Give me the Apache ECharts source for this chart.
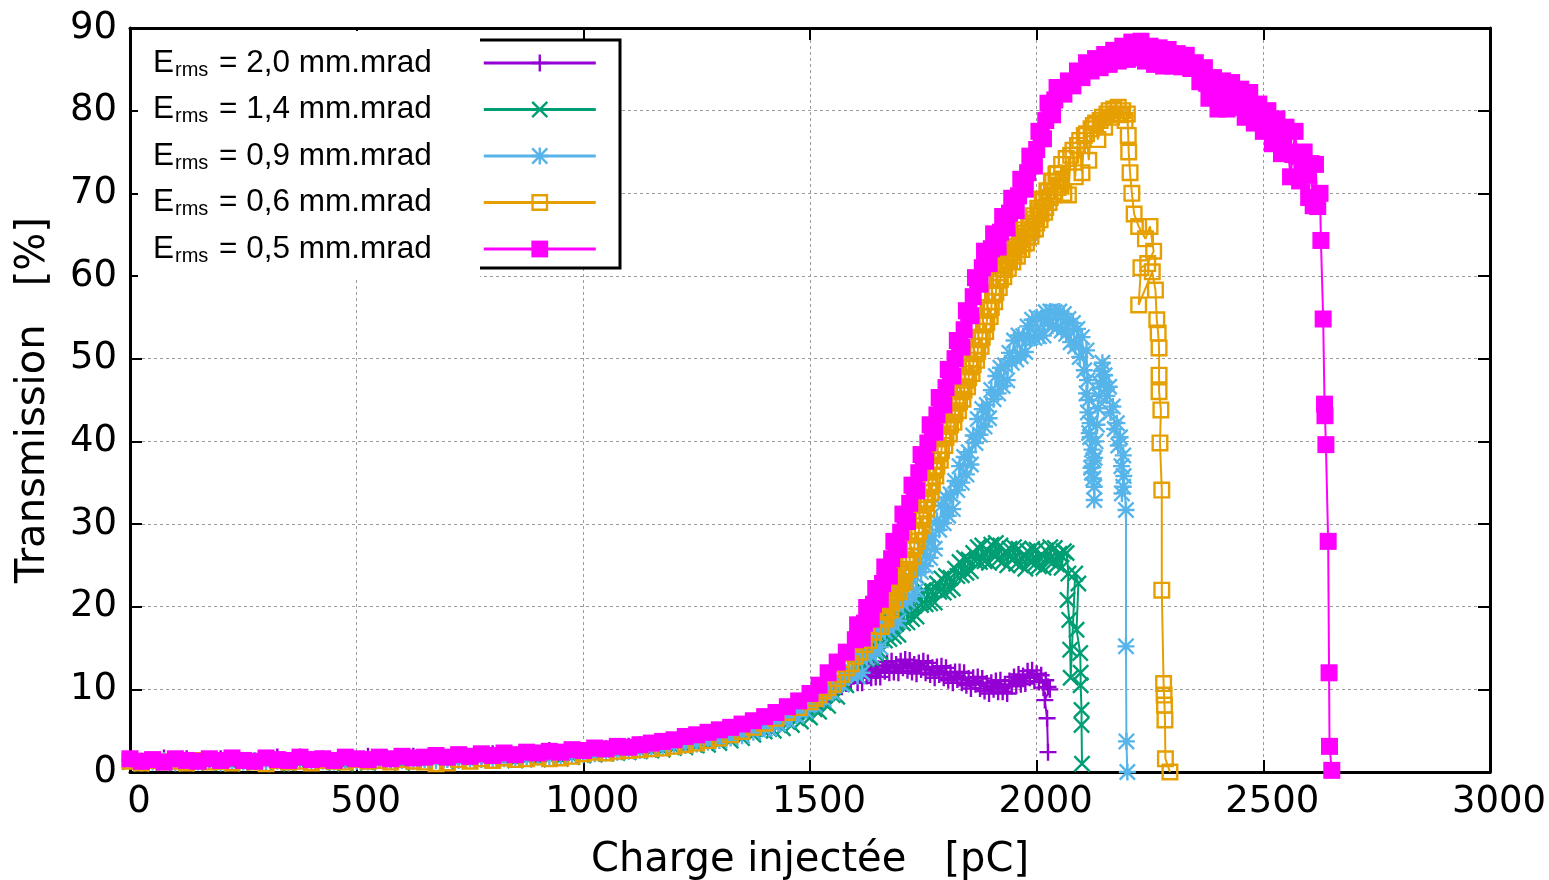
<!DOCTYPE html>
<html><head><meta charset="utf-8">
<script src="https://cdn.jsdelivr.net/npm/echarts@6.0.0/dist/echarts.min.js"></script>
<style>html,body{margin:0;padding:0;background:#fff}#c{width:1549px;height:880px}</style>
</head><body><div id="c"></div>
<script>
// ---- data ----
const emittances = ['2,0', '1,4', '0,9', '0,6', '0,5'];
const seriesNames = emittances.map(e => 'Erms = ' + e + ' mm.mrad');
const seriesColors = ['#9400d3', '#009e73', '#56b4e9', '#e69f00', '#ff00ff'];
const xTickStep = 500, xMax = 3000, yTickStep = 10, yMax = 90;

// Erms = 2,0 mm.mrad  [charge pC, transmission %]
const trans20 = [[0,1.5],[25,1.3],[50,1.4],[75,1.7],[100,1.5],[125,1.6],[150,1.3],[175,1.4],[200,1.6],[225,1.3],[250,1.4],[275,1.3],[300,1.5],[325,1.8],[350,1.4],[375,1.8],[400,1.5],[425,1.6],[450,1.4],[475,1.5],[500,1.5],[525,1.9],[550,1.6],[575,1.5],[600,1.7],[625,1.9],[650,1.7],[675,1.8],[700,1.7],[725,1.8],[750,1.8],[775,1.9],[800,2.2],[825,2.0],[850,2.0],[875,2.2],[900,2.2],[925,2.6],[950,2.3],[975,2.6],[1000,2.5],[1025,2.8],[1050,2.8],[1075,2.9],[1100,3.1],[1125,3.3],[1150,3.4],[1175,3.6],[1200,3.8],[1225,4.0],[1250,4.2],[1275,4.5],[1300,4.7],[1325,5.0],[1350,5.2],[1375,5.4],[1400,5.6],
[1410,5.8],[1420,6.0],[1430,6.2],[1440,6.4],[1450,6.6],[1460,6.9],[1470,7.1],[1480,7.3],[1490,7.6],[1500,7.9],[1510,8.2],[1520,8.5],[1530,8.9],[1540,9.2],[1550,9.6],[1560,10.0],[1570,10.3],[1580,10.7],[1590,11.0],
[1600,12.1],[1605,10.8],[1610,11.8],[1615,10.8],[1620,12.3],[1625,11.6],[1630,12.6],[1635,11.4],[1640,12.8],[1645,11.5],[1650,12.5],[1655,11.5],[1660,12.9],[1665,12.2],[1670,13.3],[1675,12.0],[1680,13.4],[1685,12.1],[1690,13.0],[1695,12.0],[1700,13.4],[1705,12.6],[1710,13.6],[1715,12.3],[1720,13.5],[1725,12.1],[1730,13.0],[1735,11.9],[1740,13.2],[1745,12.4],[1750,13.4],[1755,12.0],[1760,13.2],[1765,11.8],[1770,12.6],[1775,11.4],[1780,12.7],[1785,11.8],[1790,12.8],[1795,11.4],[1800,12.6],[1805,11.1],[1810,12.0],[1815,10.8],[1820,12.1],[1825,11.2],[1830,12.1],[1835,10.8],[1840,12.0],[1845,10.5],[1850,11.3],[1855,10.1],[1860,11.4],[1865,10.6],[1870,11.5],[1875,10.1],[1880,11.3],[1885,9.8],[1890,10.7],[1895,9.5],[1900,10.8],[1905,10.0],[1910,11.0],[1915,9.7],[1920,11.1],[1925,9.7],[1930,10.6],[1935,9.5],[1940,11.0],[1945,10.4],[1950,11.5],[1955,10.4],[1960,11.8],[1965,10.6],[1970,11.6],[1975,10.7],[1980,12.2],[1985,11.4],[1990,12.3],[1995,11.0],[2000,11.9],[2005,10.9],[2010,11.7],[2015,10.2],[2020,11.1],
[2025,10.3],[2029,10.0],[2018,8.7],[2023,6.5],[2025,2.4]];

// Erms = 1,4 mm.mrad
const trans14 = [[0,1.2],[25,1.0],[50,1.3],[75,1.1],[100,1.2],[125,1.0],[150,1.3],[175,1.1],[200,1.2],[225,1.0],[250,1.2],[275,1.1],[300,1.3],[325,1.0],[350,1.2],[375,1.1],[400,1.3],[425,1.1],[450,1.2],[475,1.0],[500,1.3],[525,1.1],[550,1.2],[575,1.3],[600,1.1],[625,1.3],[650,1.2],[675,1.4],[700,1.2],[725,1.4],[750,1.3],[775,1.5],[800,1.4],[825,1.5],[850,1.4],[875,1.6],[900,1.5],[925,1.7],[950,1.6],[975,1.8],[1000,2.0],[1025,2.1],[1050,2.2],[1075,2.3],[1100,2.4],[1125,2.5],[1150,2.6],[1175,2.7],[1200,2.9],[1225,3.0],[1250,3.2],[1275,3.3],[1300,3.5],[1325,3.8],[1350,4.1],[1375,4.5],[1400,4.9],
[1410,5.2],[1420,5.0],[1430,5.7],[1440,5.3],[1450,6.1],[1460,5.7],[1470,6.5],[1480,6.1],[1490,7.0],[1500,6.6],[1510,7.6],[1520,7.3],[1530,8.4],[1540,8.0],[1550,9.3],[1560,9.1],[1570,10.6],[1580,10.5],[1590,12.0],
[1600,13.2],[1605,11.6],[1610,13.2],[1615,12.0],[1620,14.4],[1625,13.6],[1630,15.4],[1635,13.8],[1640,15.9],[1645,14.3],[1650,15.9],[1655,14.5],[1660,16.9],[1665,15.9],[1670,17.7],[1675,16.1],[1680,18.1],[1685,16.4],[1690,17.9],[1695,16.6],[1700,18.9],[1705,18.0],[1710,19.8],[1715,18.1],[1720,20.2],[1725,18.5],[1730,20.1],[1735,18.8],[1740,21.1],[1745,20.2],[1750,22.0],[1755,20.3],[1760,22.3],[1765,20.4],[1770,21.9],[1775,20.5],[1780,22.8],[1785,21.8],[1790,23.4],[1795,21.7],[1800,23.7],[1805,22.0],[1810,23.5],[1815,22.2],[1820,24.6],[1825,23.7],[1830,25.4],[1835,23.8],[1840,25.9],[1845,24.1],[1850,25.7],[1855,24.3],[1860,26.5],[1865,25.5],[1870,27.2],[1875,25.4],[1880,27.4],[1885,25.5],[1890,26.9],[1895,25.3],[1900,27.5],[1905,26.2],[1910,27.7],[1915,25.7],[1920,27.4],[1925,25.4],[1930,26.6],[1935,25.0],[1940,27.0],[1945,25.7],[1950,27.2],[1955,25.2],[1960,27.0],[1965,25.0],[1970,26.2],[1975,24.6],[1980,26.7],[1985,25.5],[1990,27.0],[1995,25.1],[2000,26.9],[2005,24.9],[2010,26.3],[2015,24.7],[2020,26.8],[2025,25.6],[2030,27.2],[2035,25.3],[2040,27.1],[2045,25.1],[2050,26.4],[2055,24.7],[2060,26.7],
[2066,26.5],[2070,24.0],[2068,20.8],[2072,18.4],[2074,14.8],[2075,11.4],[2085,24.0],[2092,22.8],[2088,17.2],[2096,14.4],[2097,12.0],[2097,10.5],[2099,7.5],[2099,5.7],[2100,1.0]];

// Erms = 0,9 mm.mrad
const trans09 = [[0,1.3],[25,1.1],[50,1.2],[75,1.4],[100,1.1],[125,1.3],[150,1.2],[175,1.4],[200,1.1],[225,1.3],[250,1.2],[275,1.4],[300,1.2],[325,1.3],[350,1.1],[375,1.4],[400,1.2],[425,1.3],[450,1.2],[475,1.4],[500,1.3],[525,1.2],[550,1.4],[575,1.3],[600,1.4],[625,1.3],[650,1.5],[675,1.4],[700,1.5],[725,1.4],[750,1.6],[775,1.5],[800,1.6],[825,1.6],[850,1.7],[875,1.7],[900,1.8],[925,1.8],[950,1.9],[975,2.0],[1000,2.1],[1025,2.2],[1050,2.3],[1075,2.4],[1100,2.5],[1125,2.6],[1150,2.8],[1175,2.9],[1200,3.1],[1225,3.2],[1250,3.4],[1275,3.6],[1300,3.8],[1325,4.1],[1350,4.4],[1375,4.8],[1400,5.2],
[1410,5.3],[1420,5.8],[1430,5.8],[1440,6.4],[1450,6.3],[1460,7.0],[1470,6.8],[1480,7.6],[1490,7.4],[1500,8.2],[1510,8.1],[1520,9.0],[1530,8.8],[1540,9.8],[1550,9.6],[1560,10.8],[1570,10.6],[1580,12.0],[1590,11.8],
[1600,14.0],[1605,11.6],[1610,13.9],[1615,12.0],[1620,15.1],[1625,13.8],[1630,16.4],[1635,14.1],[1640,17.0],[1645,14.6],[1650,17.0],[1655,15.1],[1660,18.3],[1665,17.0],[1670,19.6],[1675,17.3],[1680,20.2],[1685,17.8],[1690,20.2],[1695,18.3],[1700,21.5],[1705,20.3],[1710,22.9],[1715,20.7],[1720,23.6],[1725,21.3],[1730,23.8],[1735,22.0],[1740,25.4],[1745,24.2],[1750,26.9],[1755,24.9],[1760,28.1],[1765,25.9],[1770,28.6],[1775,27.0],[1780,30.4],[1785,29.3],[1790,32.2],[1795,30.1],[1800,33.2],[1805,31.0],[1810,33.6],[1815,31.8],[1820,35.2],[1825,34.1],[1830,37.0],[1835,35.0],[1840,38.1],[1845,36.0],[1850,38.7],[1855,37.2],[1860,40.7],[1865,39.8],[1870,42.7],[1875,40.8],[1880,43.9],[1885,41.8],[1890,44.4],[1895,42.8],[1900,46.2],[1905,45.1],[1910,47.9],[1915,45.8],[1920,48.9],[1925,46.7],[1930,49.2],[1935,47.4],[1940,50.7],[1945,49.5],[1950,52.2],[1955,49.9],[1960,52.8],[1965,50.3],[1970,52.7],[1975,50.8],[1980,53.9],[1985,52.5],[1990,54.7],[1995,52.5],[2000,55.0],[2005,52.7],[2010,54.9],[2015,52.8],[2020,55.6],[2025,54.3],[2030,55.7],[2035,54.0],[2040,55.6],[2045,53.8],[2050,55.7],[2055,53.4],[2060,55.4],
[2065,53.0],[2070,54.8],[2075,52.0],[2080,54.3],[2085,51.5],[2090,53.6],[2095,50.2],[2100,52.6],[2105,48.6],[2110,51.0],[2112,47.4],[2110,45.8],[2115,45.0],[2113,43.5],[2118,42.2],[2116,41.0],[2118,40.5],[2122,39.0],[2125,37.7],[2120,36.8],[2122,36.2],[2127,34.5],[2127,32.9],[2125,35.5],[2128,38.0],[2130,40.0],[2133,42.0],[2135,44.0],[2138,45.5],[2140,47.0],[2143,48.5],[2145,49.5],[2148,47.2],[2150,48.0],[2155,45.5],[2160,46.6],[2163,43.5],[2168,44.2],[2172,41.5],[2177,42.2],[2180,39.5],[2184,40.5],[2187,37.0],[2191,38.3],[2191,34.5],[2188,33.7],[2192,35.8],[2197,31.7],[2197,15.2],[2198,3.7],[2200,0]];

// Erms = 0,6 mm.mrad
const trans06 = [[0,1.3],[25,1.1],[50,1.4],[75,1.2],[100,1.3],[125,1.1],[150,1.4],[175,1.2],[200,1.3],[225,1.1],[250,1.4],[275,1.2],[300,1.0],[325,1.4],[350,1.2],[375,1.3],[400,1.1],[425,1.4],[450,1.3],[475,1.2],[500,1.5],[525,1.3],[550,1.4],[575,1.2],[600,1.5],[625,1.3],[650,1.2],[675,1.0],[700,1.1],[725,1.5],[750,1.3],[775,1.6],[800,1.4],[825,1.7],[850,1.5],[875,1.6],[900,1.8],[925,1.6],[950,1.7],[975,1.9],[1000,2.2],[1025,2.4],[1050,2.3],[1075,2.5],[1100,2.6],[1125,2.7],[1150,2.8],[1175,2.9],[1200,3.1],[1225,3.3],[1250,3.5],[1275,3.8],[1300,4.1],[1325,4.5],[1350,4.9],[1375,5.4],[1400,5.9],[1425,6.5],[1450,7.2],[1475,7.8],[1500,8.5],
[1510,8.9],[1520,9.3],[1530,9.8],[1540,10.2],[1550,10.6],[1560,11.3],[1570,11.8],[1580,12.6],[1590,13.1],[1600,14.0],[1610,14.5],[1620,15.4],[1630,15.9],[1640,16.9],[1650,17.6],
[1655,18.5],[1657.5,17.6],[1660,18.6],[1662.5,20.1],[1665,19.5],[1667.5,18.5],[1670,19.5],[1672.5,21.0],[1675,20.5],[1677.5,19.6],[1680,20.6],[1682.5,22.2],[1685,21.7],[1687.5,20.8],[1690,21.8],[1692.5,23.3],[1695,22.8],[1697.5,21.8],[1700,22.8],[1702.5,24.4],[1705,23.9],[1707.5,23.0],[1710,24.1],[1712.5,25.7],[1715,25.3],[1717.5,24.5],[1720,25.6],[1722.5,27.3],[1725,26.9],[1727.5,26.1],[1730,27.3],[1732.5,29.0],[1735,28.7],[1737.5,27.9],[1740,29.1],[1742.5,30.8],[1745,30.5],[1747.5,29.8],[1750,31.0],[1752.5,32.8],[1755,32.5],[1757.5,31.8],[1760,33.0],[1762.5,34.8],[1765,34.5],[1767.5,33.8],[1770,35.0],[1772.5,36.8],[1775,36.5],[1777.5,35.8],[1780,37.0],[1782.5,38.8],[1785,38.5],[1787.5,37.7],[1790,38.9],[1792.5,40.7],[1795,40.4],[1797.5,39.5],[1800,40.5],[1802.5,42.2],[1805,41.8],[1807.5,40.9],[1810,42.0],[1812.5,43.6],[1815,43.2],[1817.5,42.3],[1820,43.4],[1822.5,45.0],[1825,44.6],[1827.5,43.7],[1830,44.8],[1832.5,46.4],[1835,46.0],[1837.5,45.1],[1840,46.2],[1842.5,47.8],[1845,47.4],[1847.5,46.6],[1850,47.7],[1852.5,49.4],[1855,49.0],[1857.5,48.2],[1860,49.3],[1862.5,51.0],[1865,50.6],[1867.5,49.8],[1870,50.9],[1872.5,52.6],[1875,52.3],[1877.5,51.5],[1880,52.6],[1882.5,54.4],[1885,54.1],[1887.5,53.3],[1890,54.4],[1892.5,56.2],[1895,55.9],[1897.5,55.1],[1900,56.2],[1902.5,58.0],[1905,57.7],[1907.5,56.9],[1910,58.0],[1912.5,59.8],[1915,59.5],[1917.5,58.6],[1920,59.6],[1922.5,61.3],[1925,60.9],[1927.5,59.9],[1930,60.8],[1932.5,62.4],[1935,62.0],[1937.5,60.9],[1940,61.8],[1942.5,63.3],[1945,62.8],[1947.5,61.7],[1950,62.5],[1952.5,64.1],[1955,63.6],[1957.5,62.4],[1960,63.2],[1962.5,64.8],[1965,64.4],[1967.5,63.2],[1970,63.9],[1972.5,65.6],[1975,65.2],[1977.5,64.0],[1980,64.7],[1982.5,66.4],[1985,66.0],[1987.5,64.8],[1990,65.6],[1992.5,67.3],[1995,66.9],[1997.5,65.7],[2000,66.4],[2002.5,68.2],[2005,67.9],[2007.5,66.8],[2010,67.6],[2012.5,69.3],[2015,69.0],[2017.5,67.7],[2020,68.3],[2022.5,70.3],[2025,70.2],[2027.5,68.9],[2030,69.5],[2032.5,71.5],[2035,71.4],[2037.5,69.8],[2040,70.2],[2042.5,72.3],[2045,72.4],[2047.5,70.7],[2050,71.0],
[2055,73.5],[2060,70.0],[2065,74.2],[2070,69.8],[2075,74.6],[2080,75.2],[2085,72.0],[2090,75.8],[2095,76.4],[2100,72.5],[2105,77.0],[2110,77.2],[2115,74.0],[2120,77.8],[2125,78.2],[2130,78.5],[2135,76.5],[2140,78.8],[2145,79.2],[2150,78.0],[2155,79.6],[2160,80.0],[2165,79.2],[2170,80.2],[2175,79.6],[2180,80.4],[2185,79.5],[2190,80.0],[2195,78.8],[2200,79.6],
[2202,77.0],[2203,75.0],[2206,72.5],[2210,70.0],[2215,67.5],[2225,66.0],[2240,64.5],[2250,66.0],[2258,63.0],[2245,61.5],[2230,61.0],[2225,56.5],[2255,60.5],[2262,58.3],[2265,54.7],[2268,53.1],[2270,51.3],[2270,48.0],[2270,46.0],[2274,43.8],[2272,39.8],[2276,34.1],[2276,22.0],[2280,10.7],[2281,9.3],[2282,8.1],[2283,6.3],[2284,1.6],[2294,0]];

// Erms = 0,5 mm.mrad
const trans05 = [[0,1.6],[25,1.3],[50,1.5],[75,1.2],[100,1.6],[125,1.4],[150,1.3],[175,1.6],[200,1.4],[225,1.7],[250,1.4],[275,1.3],[300,1.7],[325,1.5],[350,1.4],[375,1.8],[400,1.5],[425,1.6],[450,1.4],[475,1.8],[500,1.6],[525,1.5],[550,1.8],[575,1.6],[600,1.9],[625,1.7],[650,1.8],[675,2.0],[700,1.8],[725,2.1],[750,1.9],[775,2.2],[800,2.0],[825,2.3],[850,2.1],[875,2.4],[900,2.3],[925,2.5],[950,2.4],[975,2.7],[1000,2.6],[1025,2.9],[1050,2.8],[1075,3.1],[1100,3.0],[1125,3.3],[1150,3.5],[1175,3.7],[1200,3.9],[1225,4.3],[1250,4.5],[1275,4.8],[1300,5.1],[1325,5.4],[1350,5.8],[1375,6.2],[1400,6.7],[1425,7.2],[1450,7.9],[1475,8.6],[1500,9.5],
[1520,10.5],[1540,12.0],[1560,13.3],[1580,14.5],[1600,16.0],[1605,17.8],[1610,17.0],[1615,16.2],[1620,18.0],[1625,19.9],[1630,19.2],[1635,18.5],[1640,20.3],[1645,22.2],[1650,21.5],[1655,20.9],[1660,22.8],[1665,24.8],[1670,24.2],[1675,23.7],[1680,25.8],[1685,27.9],[1690,27.3],[1695,26.9],[1700,29.0],[1705,31.2],[1710,30.7],[1715,30.3],[1720,32.5],[1725,34.7],[1730,34.3],[1735,34.0],[1740,36.2],[1745,38.4],[1750,38.0],[1755,37.6],[1760,39.8],[1765,42.0],[1770,41.5],[1775,41.1],[1780,43.2],[1785,45.3],[1790,44.8],[1795,44.4],[1800,46.5],[1805,48.7],[1810,48.3],[1815,47.9],[1820,50.0],[1825,52.2],[1830,51.8],[1835,51.4],[1840,53.5],[1845,55.8],[1850,55.5],[1855,55.2],[1860,57.5],[1865,59.8],[1870,59.5],[1875,59.0],[1880,61.0],[1885,63.0],[1890,62.3],[1895,61.5],[1900,63.3],[1905,65.1],[1910,64.3],[1915,63.5],[1920,65.3],[1925,67.2],[1930,66.5],[1935,65.8],[1940,67.6],[1945,69.4],[1950,68.6],[1955,67.9],[1960,69.7],[1965,71.7],[1970,71.0],[1975,70.5],[1980,72.5],[1985,74.5],[1990,73.8],[1995,73.3],[2000,75.3],[2005,77.5],[2010,77.0],[2015,76.6],[2020,78.8],[2025,80.9],[2030,80.3],[2035,79.5],[2040,81.3],[2045,82.8],[2050,82.3],
[2060,82.0],[2070,83.6],[2080,83.0],[2090,84.8],[2100,84.0],[2110,85.8],[2120,84.8],[2130,86.3],[2140,85.2],[2150,86.8],[2160,85.6],[2170,87.3],[2180,86.0],[2190,87.8],[2200,86.2],[2210,88.3],[2220,86.4],[2230,88.4],[2240,86.0],[2250,87.8],[2260,85.6],[2270,87.6],[2280,85.4],[2290,87.4],[2300,85.4],[2310,86.9],[2320,85.3],[2330,86.7],[2340,85.1],[2350,85.8],[2360,83.5],[2365,84.3],[2370,85.2],[2375,83.3],[2380,81.5],[2385,82.8],[2390,84.0],[2395,82.0],[2400,80.2],[2405,81.9],[2410,83.6],[2415,81.9],[2420,80.2],[2425,81.8],[2430,83.4],[2435,81.9],[2440,80.4],[2445,81.5],[2450,82.6],[2455,80.9],[2460,79.2],[2465,80.7],[2470,82.2],[2475,80.3],[2480,78.5],[2485,79.6],[2490,80.8],[2495,79.1],[2500,77.5],
[2505,78.7],[2510,80.0],[2515,78.0],[2520,76.0],[2525,77.5],[2530,79.0],[2535,76.9],[2540,74.8],[2545,76.4],[2550,78.0],[2555,75.0],[2560,72.0],[2565,74.7],[2570,77.5],[2575,74.5],[2580,71.5],[2585,73.2],[2590,75.0],[2595,72.2],[2600,69.5],[2605,73.6],[2610,68.5],[2615,73.5],[2620,68.4],[2625,70.0],
[2627,64.3],[2632,54.8],[2635,44.5],[2636,43.1],[2638,39.6],[2643,27.9],[2645,12.0],[2646,3.1],[2651,0.2]];

const seriesData = [trans20, trans14, trans09, trans06, trans05];

// ---- markers (gnuplot point types) ----
const SYM_PLUS = 'path://M4.3,0H5.7V4.3H10V5.7H5.7V10H4.3V5.7H0V4.3H4.3Z';
const SYM_CROSS = 'path://M0,1L1,0L5,4L9,0L10,1L6,5L10,9L9,10L5,6L1,10L0,9L4,5Z';
const SYM_STAR = 'path://M4.3,0H5.7V4.3H10V5.7H5.7V10H4.3V5.7H0V4.3H4.3Z M0,1L1,0L5,4L9,0L10,1L6,5L10,9L9,10L5,6L1,10L0,9L4,5Z';
const SYM_OPENSQ = 'path://M0,0H10V10H0Z M1.4,1.4V8.6H8.6V1.4Z';
const symbols = [SYM_PLUS, SYM_CROSS, SYM_STAR, SYM_OPENSQ, 'rect'];

const chart = echarts.init(document.getElementById('c'), null, {renderer: 'canvas'});
const axisFont = 'DejaVu Sans';
const legendFont = 'Liberation Sans';

const baseAxisLine = {show: true, onZero: false, lineStyle: {color: '#000', width: 3}};
const baseTick = {show: true, inside: true, length: 12, lineStyle: {color: '#000', width: 2}};
const gridLine = {show: true, lineStyle: {color: '#9c9c9c', width: 1, type: [3, 3]}};

const option = {
  animation: false,
  backgroundColor: '#fff',
  grid: {left: 130, right: 59, top: 28, bottom: 108, containLabel: false, outerBoundsMode: 'none'},
  xAxis: [{
    type: 'value', min: 0, max: xMax, interval: xTickStep, position: 'bottom',
    axisLine: baseAxisLine, axisTick: baseTick, splitLine: gridLine,
    axisLabel: {fontFamily: axisFont, fontSize: 37, color: '#000', margin: 12, padding: [0, 0, 0, 18],
      showMaxLabel: true, showMinLabel: true, formatter: v => String(v)},
    name: 'Charge injectée   [pC]', nameLocation: 'middle', nameGap: 69,
    nameTextStyle: {fontFamily: axisFont, fontSize: 40, color: '#000'}
  }, {
    type: 'value', min: 0, max: xMax, interval: xTickStep, position: 'top',
    axisLine: baseAxisLine, axisTick: baseTick, splitLine: {show: false}, axisLabel: {show: false}
  }],
  yAxis: [{
    type: 'value', min: 0, max: yMax, interval: yTickStep, position: 'left',
    axisLine: baseAxisLine, axisTick: baseTick, splitLine: gridLine,
    axisLabel: {fontFamily: axisFont, fontSize: 37, color: '#000', margin: 13, formatter: v => String(v)},
    name: 'Transmission   [%]', nameLocation: 'middle', nameGap: 76,
    nameTextStyle: {fontFamily: axisFont, fontSize: 40, color: '#000'}
  }, {
    type: 'value', min: 0, max: yMax, interval: yTickStep, position: 'right',
    axisLine: baseAxisLine, axisTick: baseTick, splitLine: {show: false}, axisLabel: {show: false}
  }],
  graphic: [
    {type: 'rect', z: 3, shape: {x: 138, y: 31, width: 342, height: 248}, style: {fill: '#fff'}},
    {type: 'rect', z: 3, shape: {x: 480, y: 40, width: 140, height: 228}, style: {fill: '#fff'}},
    {type: 'polyline', z: 3, shape: {points: [[480, 40], [620, 40], [620, 268], [480, 268]]}, style: {stroke: '#000', lineWidth: 3, fill: null}}
  ],
  legend: {
    z: 10, orient: 'vertical', left: 153, top: 46, padding: 0, align: 'right',
    itemWidth: 112, itemHeight: 21, itemGap: 12.5, selectedMode: false,
    data: seriesNames,
    lineStyle: {width: 3},
    formatter: function (name) {
      const i = seriesNames.indexOf(name);
      return '{e|E}{s|rms}{t| = ' + emittances[i] + ' mm.mrad}{g|}';
    },
    textStyle: {
      rich: {
        e: {fontFamily: legendFont, fontSize: 31.5, color: '#000', lineHeight: 36},
        s: {fontFamily: legendFont, fontSize: 20, color: '#000', lineHeight: 36, padding: [14, 2, 0, 1]},
        t: {fontFamily: legendFont, fontSize: 31.5, color: '#000', lineHeight: 36},
        g: {width: 47, lineHeight: 36}
      }
    }
  },
  series: seriesData.map((d, i) => ({
    name: seriesNames[i], type: 'line', data: d,
    xAxisIndex: 0, yAxisIndex: 0,
    symbol: symbols[i], symbolSize: 17, symbolKeepAspect: true, showSymbol: true,
    clip: false, smooth: false,
    lineStyle: {color: seriesColors[i], width: 2},
    itemStyle: {color: seriesColors[i], borderWidth: 0},
    emphasis: {disabled: true}
  }))
};
chart.setOption(option);
</script>
</body></html>
